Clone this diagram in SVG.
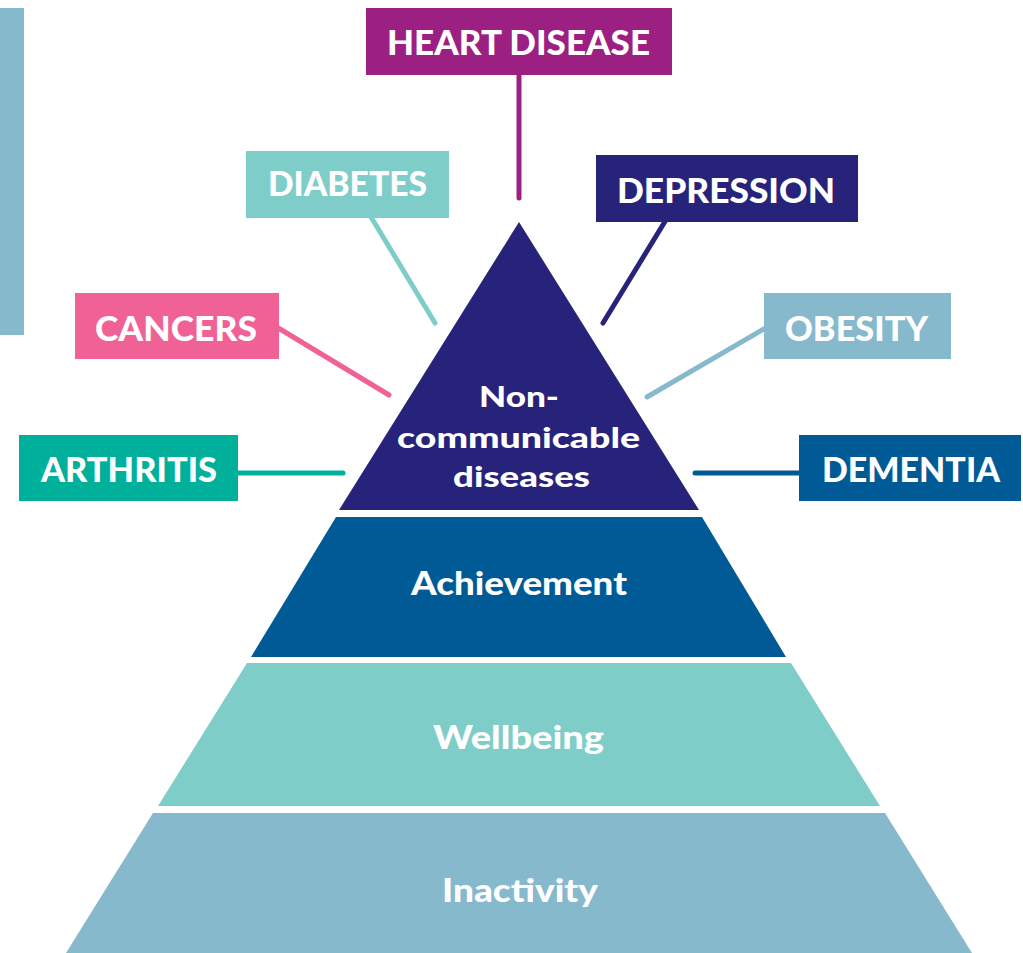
<svg xmlns="http://www.w3.org/2000/svg" width="1023" height="953" viewBox="0 0 1023 953">
<style>
.lbl{font-family:Lato,"Liberation Sans",sans-serif;font-weight:900;font-size:34px;fill:#ffffff}
.tier{font-family:Lato,"Liberation Sans",sans-serif;font-weight:900;font-size:32px;fill:#ffffff}
.ncd{font-family:Lato,"Liberation Sans",sans-serif;font-weight:900;font-size:29px;fill:#ffffff}
.con{stroke-width:5;stroke-linecap:round;fill:none}
</style>
<rect id="side-bar" x="0" y="8" width="24" height="327" fill="#87b9cd"/>
<g id="connectors">
<line class="con" x1="519" y1="60" x2="519" y2="198" stroke="#9c1f82"/>
<line class="con" x1="365" y1="207" x2="435" y2="323" stroke="#7fcdc9"/>
<line class="con" x1="672" y1="210" x2="603" y2="323" stroke="#27237a"/>
<line class="con" x1="265" y1="320" x2="389" y2="395" stroke="#f06196"/>
<line class="con" x1="225" y1="473" x2="343" y2="473" stroke="#00b09a"/>
<line class="con" x1="776" y1="322" x2="647" y2="397" stroke="#87b9cd"/>
<line class="con" x1="812" y1="473" x2="695" y2="473" stroke="#005a96"/>
</g>
<g id="tier-ncd">
<polygon points="519,222 339,510 699,510" fill="#27237a"/>
<text class="ncd" x="479" y="407" textLength="80" lengthAdjust="spacingAndGlyphs">Non-</text>
<text class="ncd" x="397" y="448" textLength="243" lengthAdjust="spacingAndGlyphs">communicable</text>
<text class="ncd" x="453" y="487" textLength="137" lengthAdjust="spacingAndGlyphs">diseases</text>
</g>
<g id="tier-achievement">
<polygon points="336,517 702,517 786,657 251,657" fill="#005a96"/>
<text class="tier" x="411" y="595" textLength="216" lengthAdjust="spacingAndGlyphs">Achievement</text>
</g>
<g id="tier-wellbeing">
<polygon points="247,663 791,663 880,806 158,806" fill="#7fcdc9"/>
<text class="tier" x="433" y="749" textLength="171" lengthAdjust="spacingAndGlyphs">Wellbeing</text>
</g>
<g id="tier-inactivity">
<polygon points="153,813 885,813 972,953 66,953" fill="#87b9cd"/>
<text class="tier" x="442" y="902" textLength="156" lengthAdjust="spacingAndGlyphs">Inactivity</text>
</g>
<g id="heart-disease">
<rect x="366" y="8" width="306" height="67" fill="#9c1f82"/>
<text class="lbl" x="387" y="55" textLength="263" lengthAdjust="spacingAndGlyphs">HEART DISEASE</text>
</g>
<g id="diabetes">
<rect x="246" y="151" width="203" height="67" fill="#7fcdc9"/>
<text class="lbl" x="268" y="196" textLength="159" lengthAdjust="spacingAndGlyphs">DIABETES</text>
</g>
<g id="depression">
<rect x="596" y="155" width="262" height="67" fill="#27237a"/>
<text class="lbl" x="617" y="203" textLength="218" lengthAdjust="spacingAndGlyphs">DEPRESSION</text>
</g>
<g id="cancers">
<rect x="75" y="293" width="204" height="66" fill="#f06196"/>
<text class="lbl" x="95" y="341" textLength="162" lengthAdjust="spacingAndGlyphs">CANCERS</text>
</g>
<g id="arthritis">
<rect x="19" y="435" width="219" height="66" fill="#00b09a"/>
<text class="lbl" x="41" y="482" textLength="176" lengthAdjust="spacingAndGlyphs">ARTHRITIS</text>
</g>
<g id="obesity">
<rect x="764" y="293" width="187" height="66" fill="#87b9cd"/>
<text class="lbl" x="785" y="341" textLength="143" lengthAdjust="spacingAndGlyphs">OBESITY</text>
</g>
<g id="dementia">
<rect x="799" y="435" width="222" height="66" fill="#005a96"/>
<text class="lbl" x="822" y="482" textLength="178" lengthAdjust="spacingAndGlyphs">DEMENTIA</text>
</g>
</svg>
